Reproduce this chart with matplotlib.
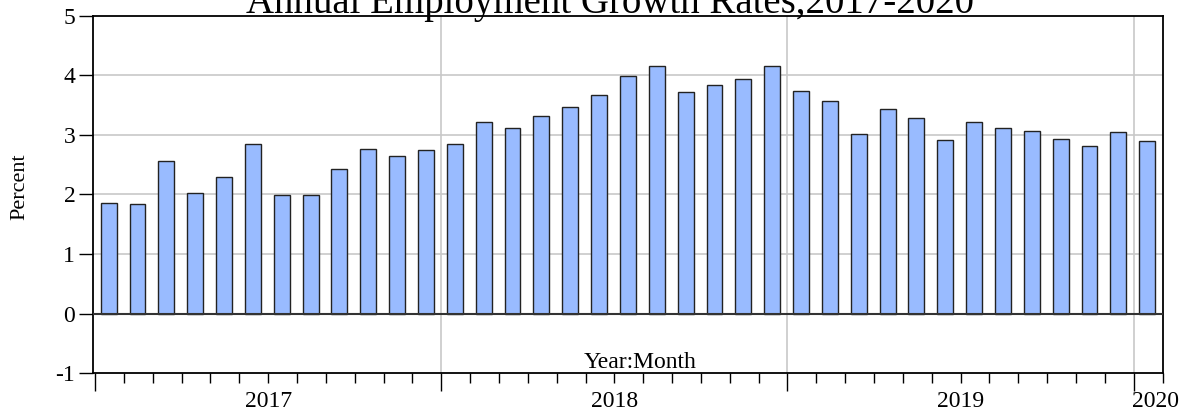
import matplotlib
matplotlib.use("Agg")
import matplotlib.pyplot as plt
import numpy as np
from matplotlib.ticker import FixedLocator, NullFormatter

plt.rcParams['font.family'] = ['Liberation Serif', 'DejaVu Serif']

# Monthly data Jan 2017 .. Jan 2020
months = [f"{y}:{m:02d}" for y in (2017, 2018, 2019) for m in range(1, 13)] + ["2020:01"]
growth = [1.86, 1.84, 2.56, 2.03, 2.29, 2.85, 1.99, 1.99, 2.43, 2.76, 2.65, 2.74,
          2.84, 3.22, 3.11, 3.31, 3.46, 3.67, 3.98, 4.16, 3.72, 3.83, 3.93, 4.15,
          3.74, 3.57, 3.02, 3.43, 3.29, 2.92, 3.21, 3.12, 3.07, 2.93, 2.81, 3.05,
          2.90]
year_labels = ["2017", "2018", "2019", "2020"]
yticks = [-1, 0, 1, 2, 3, 4, 5]

fig = plt.figure(figsize=(11.86, 4.15), dpi=100)
ax = fig.add_axes([0.0787, 0.1005, 0.9015, 0.8617])

n = len(growth)
x = np.arange(n) + 0.47
ax.bar(x, growth, width=0.55, color='#99bbff', edgecolor='#222222', linewidth=1.0, zorder=3)

ax.set_xlim(-0.06, n)
ax.set_ylim(-1, 5)

# grid
for v in yticks[2:-1]:
    ax.axhline(v, color='#c8c8c8', linewidth=1.2, zorder=1)
ax.axhline(0, color='#333333', linewidth=1.5, zorder=4)
for k in (12, 24, 36):
    ax.axvline(k, color='#c8c8c8', linewidth=1.2, zorder=1)

ax.set_yticks(yticks)
ax.set_yticklabels([str(v) for v in yticks], fontsize=17)
ax.tick_params(axis='y', direction='out', length=10, width=1.0, pad=3)

# x ticks: major at year boundaries, minor at months
ax.xaxis.set_major_locator(FixedLocator([0, 12, 24, 36]))
ax.xaxis.set_major_formatter(NullFormatter())
ax.xaxis.set_minor_locator(FixedLocator([k for k in range(1, n + 1) if k not in (12, 24, 36)]))
ax.tick_params(axis='x', which='major', direction='out', length=13, width=1.0)
ax.tick_params(axis='x', which='minor', direction='out', length=7, width=1.0)

label_pos = [6, 18, 30, 36.74]
for p, lab in zip(label_pos, year_labels):
    ax.text(p, -1.47, lab, ha='center', va='center', fontsize=17,
            transform=ax.transData, clip_on=False)

for s in ax.spines.values():
    s.set_linewidth(1.3)
    s.set_color('black')

ax.text(18.9, -0.82, "Year:Month", ha='center', va='center', fontsize=17, zorder=5)
fig.text(0.0165, 0.55, "Percent", rotation=90, ha='center', va='center', fontsize=16)
fig.text(0.514, 0.968, "Annual Employment Growth Rates,2017-2020", ha='center',
         va='baseline', fontsize=28)

fig.savefig("out.png", dpi=100)
